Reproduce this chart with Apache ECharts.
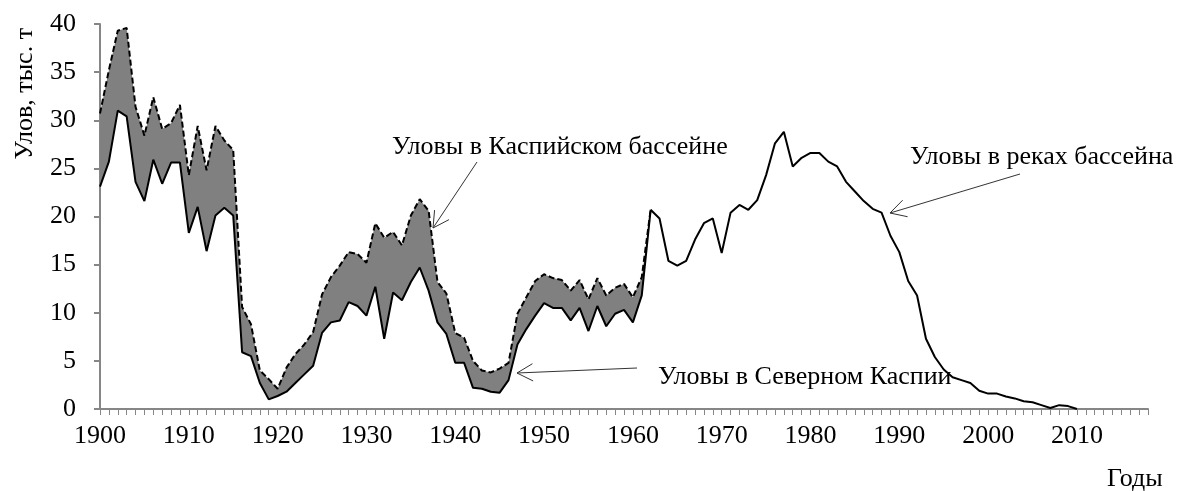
<!DOCTYPE html>
<html>
<head>
<meta charset="utf-8">
<title>Уловы</title>
<script src="https://cdn.jsdelivr.net/npm/echarts/dist/echarts.min.js"></script>
<style>
  html, body { margin: 0; padding: 0; background: #fff; }
  #chart { width: 1182px; height: 491px; }
</style>
</head>
<body>
<div id="chart"></div>
<script>
// годы по оси X: 1900 … 2018
const years = []
for (let y = 1900; y <= 2018; y++) years.push(String(y))

// Уловы в Северном Каспии, 1900–1962 (тыс. т)
const northCaspian = [
  23.1, 25.7, 31.0, 30.4, 23.6, 21.6, 25.9, 23.4, 25.6, 25.6,
  18.3, 21.0, 16.4, 20.1, 20.9, 20.1, 5.9, 5.5, 2.7, 1.0,
  1.35, 1.8, 2.7, 3.6, 4.5, 7.9, 9.0, 9.2, 11.1, 10.7,
  9.7, 12.7, 7.3, 12.1, 11.3, 13.2, 14.7, 12.3, 9.0, 7.8,
  4.8, 4.8, 2.2, 2.1, 1.8, 1.7, 3.0, 6.7, 8.3, 9.7,
  11.0, 10.5, 10.5, 9.2, 10.5, 8.1, 10.7, 8.6, 9.9, 10.3,
  9.0, 11.8, 20.7
]

// Уловы в Каспийском бассейне, 1900–1962
const caspianBasin = [
  30.7, 35.2, 39.3, 39.6, 31.4, 28.4, 32.4, 29.1, 29.7, 31.6,
  24.3, 29.4, 24.8, 29.4, 27.9, 26.9, 10.6, 8.8, 4.0, 3.1,
  2.1, 4.3, 5.7, 6.7, 8.0, 11.9, 13.7, 14.9, 16.3, 16.1,
  15.2, 19.3, 17.8, 18.4, 17.0, 20.1, 21.8, 20.6, 13.2, 12.0,
  7.9, 7.4, 5.0, 4.0, 3.8, 4.2, 4.8, 9.9, 11.6, 13.3,
  14.0, 13.6, 13.4, 12.3, 13.4, 11.4, 13.6, 11.8, 12.6, 13.0,
  11.6, 13.7, 20.7
]

// Уловы в реках бассейна, 1962–2010
const riverBasin = [
  20.7, 19.8, 15.4, 14.9, 15.4, 17.6, 19.3, 19.8,
  16.2, 20.4, 21.2, 20.7, 21.7, 24.3, 27.6, 28.8, 25.2, 26.1,
  26.6, 26.6, 25.7, 25.2, 23.6, 22.6, 21.6, 20.8, 20.4, 18.0,
  16.3, 13.3, 11.8, 7.3, 5.4, 4.1, 3.3, 3.0, 2.7, 1.9,
  1.6, 1.6, 1.3, 1.1, 0.8, 0.7, 0.4, 0.1, 0.4, 0.3,
  0.0
]
const riverStart = 1962

const FONT = '"Liberation Serif", "Times New Roman", serif'

function pad(arr, startYear) {
  const out = years.map(() => null)
  const off = startYear - 1900
  arr.forEach((v, i) => { out[off + i] = v })
  return out
}

const lower = pad(northCaspian, 1900)
const band = pad(caspianBasin.map((v, i) => +(v - northCaspian[i]).toFixed(2)), 1900)
const river = pad(riverBasin, riverStart)

// стрелка-выноска: остриё (x2, y2)
function arrow(x1, y1, x2, y2) {
  const a = Math.atan2(y1 - y2, x1 - x2)
  const len = 18, spread = 0.5
  const w1 = [x2 + len * Math.cos(a + spread), y2 + len * Math.sin(a + spread)]
  const w2 = [x2 + len * Math.cos(a - spread), y2 + len * Math.sin(a - spread)]
  return {
    type: 'group',
    children: [
      { type: 'line', shape: { x1, y1, x2, y2 }, style: { stroke: '#333', lineWidth: 1 } },
      { type: 'polyline', shape: { points: [w1, [x2, y2], w2] }, style: { stroke: '#333', lineWidth: 1, fill: null } }
    ]
  }
}

function label(text, x, y, align) {
  return {
    type: 'text', x, y,
    style: { text, font: '26px ' + FONT, fill: '#000', align: align || 'left', verticalAlign: 'middle' }
  }
}

const chart = echarts.init(document.getElementById('chart'))
chart.setOption({
  animation: false,
  backgroundColor: '#fff',
  grid: { left: 100, right: 34, top: 24, bottom: 82 },
  xAxis: {
    type: 'category',
    data: years,
    boundaryGap: false,
    axisLine: { lineStyle: { color: '#868686', width: 2 } },
    axisTick: { interval: 0, length: 6, lineStyle: { color: '#868686', width: 1 } },
    axisLabel: {
      interval: (i, v) => Number(v) % 10 === 0,
      margin: 14,
      color: '#000',
      fontFamily: FONT,
      fontSize: 26
    },
    splitLine: { show: false }
  },
  yAxis: {
    type: 'value',
    min: 0, max: 40, interval: 5,
    axisLine: { show: true, lineStyle: { color: '#868686', width: 2 } },
    axisTick: { show: true, length: 6, lineStyle: { color: '#868686', width: 2 } },
    axisLabel: { margin: 24, color: '#000', fontFamily: FONT, fontSize: 26 },
    splitLine: { show: false }
  },
  series: [
    {
      name: 'Уловы в Северном Каспии',
      type: 'line', data: lower, stack: 'caspian',
      symbol: 'none', z: 4,
      lineStyle: { color: '#000', width: 2 }
    },
    {
      name: 'Уловы в Каспийском бассейне',
      type: 'line', data: band, stack: 'caspian',
      symbol: 'none', z: 3,
      lineStyle: { color: '#000', width: 2, type: [6, 3] },
      areaStyle: { color: '#808080', opacity: 1 }
    },
    {
      name: 'Уловы в реках бассейна',
      type: 'line', data: river,
      symbol: 'none', z: 4,
      lineStyle: { color: '#000', width: 2 }
    }
  ],
  graphic: [
    {
      type: 'text', x: 25, y: 28, rotation: Math.PI / 2,
      style: { text: 'Улов, тыс. т', font: '26px ' + FONT, fill: '#000', align: 'right', verticalAlign: 'middle' }
    },
    label('Годы', 1107, 479),
    label('Уловы в Каспийском бассейне', 392, 147),
    label('Уловы в реках бассейна', 910, 157),
    label('Уловы в Северном Каспии', 658, 377),
    arrow(477, 162, 433, 228),
    arrow(1020, 174, 890, 213),
    arrow(637, 368, 517, 373)
  ]
})
</script>
</body>
</html>
